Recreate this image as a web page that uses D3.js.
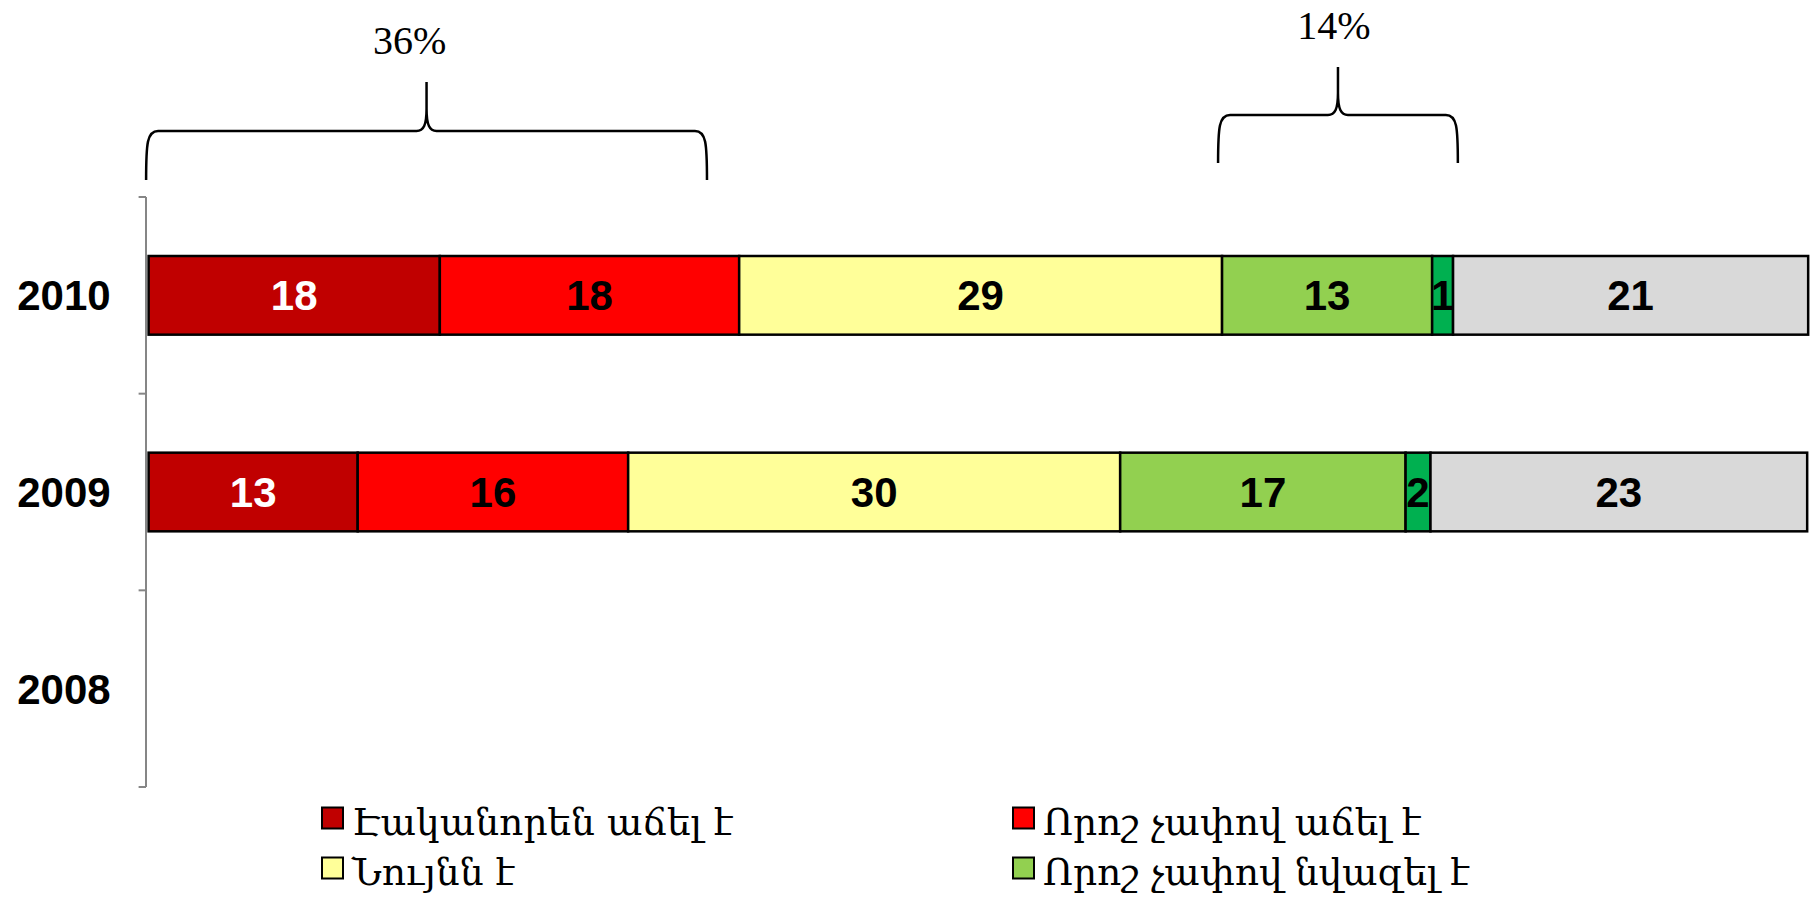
<!DOCTYPE html>
<html>
<head>
<meta charset="utf-8">
<script src="https://cdn.jsdelivr.net/npm/d3@7"></script>
<style>
  body{margin:0;background:#fff;}
</style>
</head>
<body>
<div class="canvas"></div>
<script>
// data
const categories=['2010','2009','2008'];
const seriesKeys=['s1','s2','s3','s4','s5','s6'];
const seriesColors=['#C00000','#FF0000','#FFFF99','#92D050','#00B050','#D9D9D9'];
const values2010=[17.55,18.04,29.1,12.66,1.26,21.4];
const values2009=[12.6,16.3,29.65,17.2,1.5,22.7];
const values2008=[0,0,0,0,0,0];
const legendLabels=['Էականորեն աճել է','Որոշ չափով աճել է','Նույնն է','Որոշ չափով նվազել է'];
const braceLabels=['36%','14%'];
const braceFrom=[-0.15,64.45];
const braceTo=[33.65,78.9];

const rows=[values2010,values2009,values2008].map((v,i)=>{
  const r={year:categories[i]};
  seriesKeys.forEach((k,j)=>r[k]=v[j]);
  return r;
});

const svg=d3.select('.canvas').append('svg')
.attr('width',1820)
.attr('height',898);

const margin={left:148.6,top:197,right:12,bottom:111};
const graphWidth=1820-margin.left-margin.right;
const graphHeight=898-margin.top-margin.bottom;

const graph=svg.append('g')
.attr('transform',`translate(${margin.left},${margin.top})`);

const x=d3.scaleLinear().domain([0,100]).range([0,graphWidth]);
const y=d3.scaleBand().domain(categories).range([0,graphHeight])
.paddingInner(0.6).paddingOuter(0.3);

// axis (category labels)
const yAxisGroup=graph.append('g');
yAxisGroup.call(d3.axisLeft(y).tickSize(0).tickPadding(38))
yAxisGroup.select('.domain').remove();
yAxisGroup.selectAll('text')
.attr('font-family','"Liberation Sans", Arial, sans-serif')
.attr('font-weight','bold')
.attr('font-size',42)
.attr('fill','#000')
.attr('dy','0.36em');

// axis line with ticks between categories
const step=y.step();
const bounds=d3.range(categories.length+1).map(i=>i*step);
graph.append('line')
.attr('x1',-2.6).attr('x2',-2.6)
.attr('y1',0).attr('y2',graphHeight)
.attr('stroke','#868686').attr('stroke-width',2);
graph.selectAll('.btick').data(bounds).enter().append('line')
.attr('class','btick')
.attr('x1',-10).attr('x2',-2.6)
.attr('y1',d=>d).attr('y2',d=>d)
.attr('stroke','#868686').attr('stroke-width',2);

// stacked bars
const stacked=d3.stack().keys(seriesKeys)(rows);
const layers=graph.selectAll('.layer').data(stacked).enter().append('g')
.attr('class','layer')
.attr('fill',(d,i)=>seriesColors[i]);

layers.selectAll('rect')
.data(d=>d.filter(p=>p[1]-p[0]>0))
.enter().append('rect')
.attr('x',d=>x(d[0]))
.attr('y',d=>y(d.data.year))
.attr('width',d=>x(d[1])-x(d[0]))
.attr('height',y.bandwidth())
.attr('stroke','#000')
.attr('stroke-width',2.5);

layers.each(function(layer,i){
  d3.select(this).selectAll('text')
  .data(layer.filter(p=>p[1]-p[0]>0))
  .enter().append('text')
  .attr('x',d=>x((d[0]+d[1])/2))
  .attr('y',d=>y(d.data.year)+y.bandwidth()/2)
  .attr('dy','0.36em')
  .attr('text-anchor','middle')
  .attr('font-family','"Liberation Sans", Arial, sans-serif')
  .attr('font-weight','bold')
  .attr('font-size',42)
  .attr('fill',i===0?'#fff':'#000')
  .text(d=>Math.round(d[1]-d[0]));
});

// braces
const braceBottom=[180,163];
const braceMid=[131,115];
const braceTip=[82,67];
const braceTextShift=[-17,-4];
braceLabels.forEach((lab,i)=>{
  const x0=margin.left+x(braceFrom[i]);
  const x1=margin.left+x(braceTo[i]);
  const xm=(x0+x1)/2;
  const yb=braceBottom[i],yh=braceMid[i],yt=braceTip[i];
  const p=d3.path();
  p.moveTo(x0,yb);
  p.bezierCurveTo(x0,yh+12,x0+1,yh,x0+12,yh);
  p.lineTo(xm-10,yh);
  p.bezierCurveTo(xm-3,yh,xm,yh-6,xm,yh-22);
  p.lineTo(xm,yt);
  p.moveTo(xm,yh-22);
  p.bezierCurveTo(xm,yh-6,xm+3,yh,xm+10,yh);
  p.lineTo(x1-12,yh);
  p.bezierCurveTo(x1-1,yh,x1,yh+12,x1,yb);
  svg.append('path')
  .attr('d',p.toString())
  .attr('fill','none')
  .attr('stroke','#000')
  .attr('stroke-width',2.5);
  svg.append('text')
  .attr('x',xm+braceTextShift[i])
  .attr('y',yt-28)
  .attr('text-anchor','middle')
  .attr('font-family','"Liberation Serif", "Times New Roman", serif')
  .attr('font-size',40)
  .attr('fill','#000')
  .text(lab);
});

// legend
const legendX=[322,1013];
const legendY=[818,868];
const legend=svg.selectAll('.legend').data(legendLabels).enter().append('g')
.attr('class','legend')
.attr('transform',(d,i)=>`translate(${legendX[i%2]},${legendY[Math.floor(i/2)]})`);
legend.append('rect')
.attr('x',0).attr('y',-10.5)
.attr('width',21).attr('height',21)
.attr('fill',(d,i)=>seriesColors[i])
.attr('stroke','#000')
.attr('stroke-width',2);
legend.append('text')
.attr('x',30)
.attr('y',17)
.attr('font-family','"DejaVu Serif", serif')
.attr('font-size',37.5)
.attr('fill','#000')
.text(d=>d);
</script>
</body>
</html>
